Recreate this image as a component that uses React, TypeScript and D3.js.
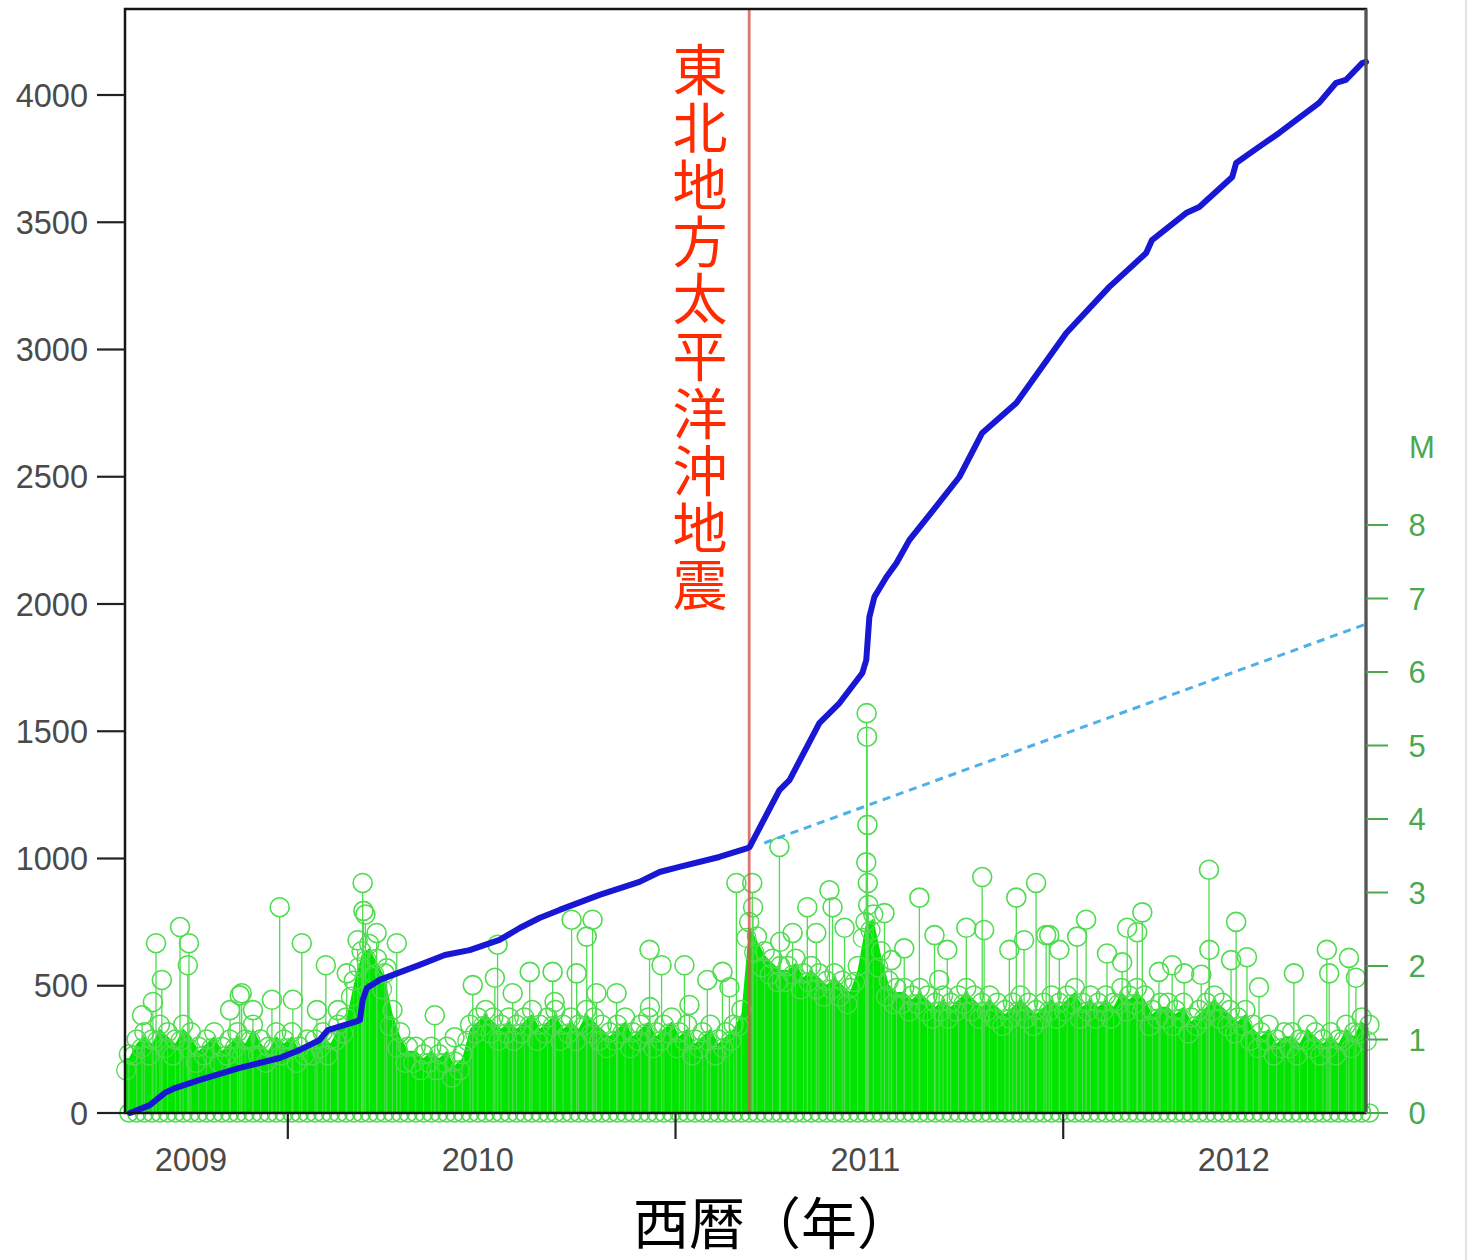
import React from "react";
import * as d3 from "d3";

// ---------------- data ----------------
// cumulative number of events (blue line)
const cumYear = [2009.593, 2009.644, 2009.683, 2009.709, 2009.773, 2009.876, 2009.979, 2010.031, 2010.082, 2010.103, 2010.173, 2010.186, 2010.193, 2010.204, 2010.237, 2010.34, 2010.405, 2010.469, 2010.546, 2010.598, 2010.649, 2010.701, 2010.804, 2010.907, 2010.959, 2011.01, 2011.113, 2011.186, 2011.191, 2011.268, 2011.294, 2011.371, 2011.423, 2011.482, 2011.492, 2011.5, 2011.513, 2011.544, 2011.57, 2011.603, 2011.655, 2011.732, 2011.791, 2011.879, 2012.008, 2012.119, 2012.214, 2012.229, 2012.317, 2012.351, 2012.436, 2012.446, 2012.505, 2012.557, 2012.66, 2012.704, 2012.729, 2012.771, 2012.781];
const cumCount = [0, 31, 79, 98, 130, 177, 216, 248, 287, 326, 358, 365, 444, 491, 523, 582, 621, 640, 680, 727, 766, 798, 857, 908, 947, 967, 1006, 1041, 1045, 1269, 1308, 1532, 1611, 1729, 1780, 1949, 2028, 2106, 2161, 2251, 2350, 2499, 2672, 2790, 3065, 3246, 3379, 3430, 3536, 3560, 3678, 3733, 3796, 3851, 3969, 4048, 4059, 4125, 4130];

// extrapolated pre-quake trend (dotted line)
const trendYear = [2011.229, 2012.781];
const trendCount = [1061, 1921];

// magnitude of individual notable events (green stems)
const eventYear = [2009.624, 2009.652, 2009.66, 2009.675, 2009.722, 2009.742, 2009.745, 2009.851, 2009.876, 2009.881, 2009.91, 2009.959, 2009.979, 2010.013, 2010.036, 2010.075, 2010.098, 2010.129, 2010.152, 2010.18, 2010.193, 2010.195, 2010.2, 2010.229, 2010.255, 2010.281,
  2010.379, 2010.43, 2010.477, 2010.534, 2010.541, 2010.58, 2010.624, 2010.683, 2010.688, 2010.732, 2010.745, 2010.771, 2010.786, 2010.796, 2010.848, 2010.933, 2010.934, 2010.964, 2011.023, 2011.036, 2011.082, 2011.121, 2011.139, 2011.157,
  2011.198, 2011.2, 2011.268, 2011.27, 2011.302, 2011.34, 2011.363, 2011.397, 2011.405, 2011.436, 2011.493, 2011.494, 2011.495, 2011.492, 2011.496, 2011.497, 2011.539, 2011.557, 2011.59, 2011.629, 2011.668, 2011.68, 2011.701, 2011.75, 2011.791, 2011.796, 2011.861, 2011.879, 2011.899, 2011.93, 2011.956, 2011.964, 2011.99,
  2012.036, 2012.059, 2012.113, 2012.152, 2012.165, 2012.191, 2012.204, 2012.247, 2012.281, 2012.312, 2012.356, 2012.376, 2012.377, 2012.433, 2012.446, 2012.474, 2012.505, 2012.595, 2012.68, 2012.686, 2012.737, 2012.755];
const eventMag = [1.33, 1.51, 2.31, 1.81, 2.53, 2.01, 2.31, 1.4, 1.6, 1.63, 1.4, 1.54, 2.8, 1.54, 2.31, 1.4, 2.01, 1.4, 1.9, 2.35, 3.13, 2.75, 2.7, 2.45, 1.97, 2.31,
  1.33, 1.03, 1.74, 1.84, 2.29, 1.63, 1.92, 1.92, 1.51, 2.63, 1.9, 2.4, 2.63, 1.63, 1.63, 2.22, 1.44, 2.01, 2.01, 1.47, 1.81, 1.92, 1.71, 3.13,
  3.13, 2.8, 3.62, 2.33, 2.45, 2.8, 2.45, 3.03, 2.8, 2.52, 5.44, 5.12, 3.92, 3.41, 3.13, 2.83, 2.72, 2.08, 2.24, 2.93, 2.42, 1.81, 2.22, 2.52, 3.21, 2.49, 2.22, 2.93, 2.35, 3.13, 2.42, 2.42, 2.22,
  2.4, 2.63, 2.17, 2.05, 2.52, 2.46, 2.73, 1.92, 2.01, 1.9, 1.88, 3.31, 2.22, 2.08, 2.6, 2.12, 1.71, 1.9, 2.22, 1.9, 2.11, 1.84];

// upper level of the dense cloud of small events, per 0.02-year bin from 2009.58
const massStart = 2009.58;
const massStep = 0.02;
const massTop = [
  0.8, 1.0, 1.1, 1.0, 1.2, 1.1, 1.0, 1.2, 1.1, 0.9,
  1.0, 1.1, 0.9, 1.0, 1.1, 1.0, 1.2, 1.0, 0.9, 1.1,
  1.0, 1.1, 0.9, 1.0, 1.0, 1.1, 1.0, 1.2, 1.3, 1.8,
  2.2, 2.3, 2.1, 1.9, 1.4, 1.1, 0.9, 0.9, 0.8, 0.9,
  0.8, 0.9, 0.7, 0.8, 1.2, 1.3, 1.4, 1.3, 1.2, 1.3,
  1.2, 1.3, 1.4, 1.2, 1.3, 1.4, 1.2, 1.3, 1.2, 1.4,
  1.3, 1.2, 1.1, 1.2, 1.3, 1.1, 1.2, 1.3, 1.1, 1.2,
  1.3, 1.1, 1.2, 1.0, 1.1, 1.2, 1.0, 1.1, 1.2, 1.4,
  2.6, 2.4, 2.2, 2.1, 2.0, 2.0, 2.1, 1.9, 2.0, 1.9,
  1.8, 1.9, 1.8, 1.7, 2.0, 2.6, 2.7, 2.2, 1.8, 1.7,
  1.7, 1.6, 1.7, 1.6, 1.5, 1.6, 1.5, 1.6, 1.7, 1.6,
  1.5, 1.6, 1.5, 1.4, 1.5, 1.6, 1.5, 1.4, 1.5, 1.6,
  1.5, 1.6, 1.7, 1.5, 1.6, 1.5, 1.6, 1.5, 1.7, 1.6,
  1.7, 1.6, 1.4, 1.5, 1.5, 1.4, 1.5, 1.3, 1.4, 1.5,
  1.6, 1.5, 1.4, 1.3, 1.4, 1.2, 1.1, 1.2, 1.0, 1.1,
  1.1, 1.0, 1.2, 1.1, 1.0, 1.1, 1.0, 1.2, 1.1, 1.3,
  1.2,
];

const quakeYear = 2011.19;
const quakeLabel = "東北地方太平洋沖地震";
const countTicks = [0, 500, 1000, 1500, 2000, 2500, 3000, 3500, 4000];
const magTicks = [0, 1, 2, 3, 4, 5, 6, 7, 8];
const yearTicks = [2010, 2011, 2012];
const yearLabels = ["2009", "2010", "2011", "2012"];
const yearLabelAt = [2009.75, 2010.49, 2011.49, 2012.44];
const xTitle = "西暦（年）";

// ---------------- chart ----------------
const W = 1471;
const H = 1260;
const L = 125, R = 1366, T = 9, B = 1113;

export default function App() {
  const x = d3.scaleLinear().domain([2009.58, 2012.781]).range([L, R]);
  const yC = d3.scaleLinear().domain([0, 4000]).range([B, 95]);
  const yM = d3.scaleLinear().domain([0, 8]).range([B, 525]);

  const massPts = massTop.map((m, i) => ({ yr: massStart + massStep * i, m }));
  // solid core of the cloud sits a little below the ring tops
  const massArea = d3
    .area<{ yr: number; m: number }>()
    .x((d) => x(d.yr))
    .y0(yM(0))
    .y1((d) => yM(d.m) + 4)
    .curve(d3.curveLinear);
  const areaPts = massPts.map((d) => ({ yr: d.yr + massStep / 2, m: d.m }));
  areaPts.unshift({ yr: 2009.581, m: massTop[0] });
  areaPts.push({ yr: 2012.781, m: massTop[massTop.length - 1] });

  const cum = cumYear.map((yr, i) => ({ yr, c: cumCount[i] }));
  const cumLine = d3
    .line<{ yr: number; c: number }>()
    .x((d) => x(d.yr))
    .y((d) => yC(d.c));

  const trend = trendYear.map((yr, i) => ({ yr, c: trendCount[i] }));

  const green = "#00e600";
  const ring = "#4fdc4f";
  const axisGreen = "#4aa84f";
  const sans = "'Liberation Sans', Arial, Helvetica, sans-serif";
  const cjk = "'Noto Sans CJK JP', 'Noto Sans CJK SC', sans-serif";

  return (
    <div style={{ position: "absolute", left: 0, top: 0, background: "#fff" }}>
      <svg width={W} height={H} viewBox={`0 0 ${W} ${H}`} style={{ display: "block" }}>
        <rect x={0} y={0} width={W} height={H} fill="#fff" />
        <line x1={1466} x2={1466} y1={0} y2={H} stroke="#e4e4e4" strokeWidth={2} />

        {/* dense cloud of small events */}
        <g>
          {massPts.map((d, i) => (
            <circle key={"b" + i} cx={x(d.yr + massStep / 2)} cy={yM(0)} r={9} fill="none" stroke={ring} strokeWidth={1.5} />
          ))}
          <path d={massArea(areaPts) || ""} fill={green} />
          {massPts.map((d, i) => (
            <g key={"t" + i}>
              <line x1={x(d.yr + massStep / 2)} x2={x(d.yr + massStep / 2)} y1={yM(0)} y2={yM(d.m) + 9} stroke={ring} strokeWidth={1} />
              <circle cx={x(d.yr + massStep / 2)} cy={yM(d.m)} r={9.5} fill="none" stroke={ring} strokeWidth={1.5} />
              <circle cx={x(d.yr + massStep * 0.15)} cy={yM(d.m) + 16} r={9.5} fill="none" stroke={ring} strokeWidth={1.3} />
            </g>
          ))}
        </g>

        {/* notable events */}
        <g>
          {eventYear.map((yr, i) => (
            <line key={"s" + i} x1={x(yr)} x2={x(yr)} y1={yM(0)} y2={yM(eventMag[i]) + 9.5} stroke={ring} strokeWidth={1.3} />
          ))}
          {eventYear.map((yr, i) => (
            <circle key={"c" + i} cx={x(yr)} cy={yM(eventMag[i])} r={9.5} fill="none" stroke={ring} strokeWidth={1.6} />
          ))}
        </g>

        {/* quake marker */}
        <line x1={x(quakeYear)} x2={x(quakeYear)} y1={T} y2={B} stroke="#d0544c" strokeWidth={2.8} opacity={0.8} />

        {/* trend */}
        <path
          d={cumLine(trend) || ""}
          fill="none"
          stroke="#4db0e6"
          strokeWidth={3}
          strokeDasharray="8 6"
        />

        {/* cumulative line */}
        <path
          d={cumLine(cum) || ""}
          fill="none"
          stroke="#1818d4"
          strokeWidth={6}
          strokeLinejoin="round"
          strokeLinecap="round"
        />

        {/* frame */}
        <rect x={L} y={T} width={R - L} height={B - T} fill="none" stroke="#151515" strokeWidth={2.5} />
        <line x1={R} x2={R} y1={T} y2={B} stroke="#555" strokeWidth={3} />

        {/* left axis */}
        <g fontFamily={sans} fontSize={32.5} fill="#4a4a4a">
          {countTicks.map((v) => (
            <g key={"lc" + v}>
              <line x1={97} x2={L} y1={yC(v)} y2={yC(v)} stroke="#222" strokeWidth={2.2} />
              <text x={88} y={yC(v) + 11.5} textAnchor="end">{v}</text>
            </g>
          ))}
        </g>

        {/* right axis */}
        <g fontFamily={sans} fontSize={31} fill={axisGreen}>
          {magTicks.map((v) => (
            <g key={"rm" + v}>
              <line x1={R} x2={1388} y1={yM(v)} y2={yM(v)} stroke={axisGreen} strokeWidth={2} />
              <text x={1417} y={yM(v) + 11} textAnchor="middle">{v}</text>
            </g>
          ))}
          <text x={1422} y={458} textAnchor="middle">M</text>
        </g>

        {/* bottom axis */}
        <g fontFamily={sans} fontSize={32.5} fill="#4a4a4a">
          {yearTicks.map((v) => (
            <line key={"yt" + v} x1={x(v)} x2={x(v)} y1={B} y2={1139} stroke="#222" strokeWidth={2.2} />
          ))}
          {yearLabels.map((s, i) => (
            <text key={"yl" + s} x={x(yearLabelAt[i])} y={1171} textAnchor="middle">{s}</text>
          ))}
        </g>

        {/* x title */}
        <text x={633} y={1244} fontFamily={cjk} fontSize={56} fill="#000">{xTitle}</text>

        {/* vertical quake label */}
        <text
          x={700}
          y={42}
          fontFamily={cjk}
          fontSize={55}
          fill="#ff2a00"
          letterSpacing={2.2}
          style={{ writingMode: "vertical-rl" } as React.CSSProperties}
        >
          {quakeLabel}
        </text>
      </svg>
    </div>
  );
}
